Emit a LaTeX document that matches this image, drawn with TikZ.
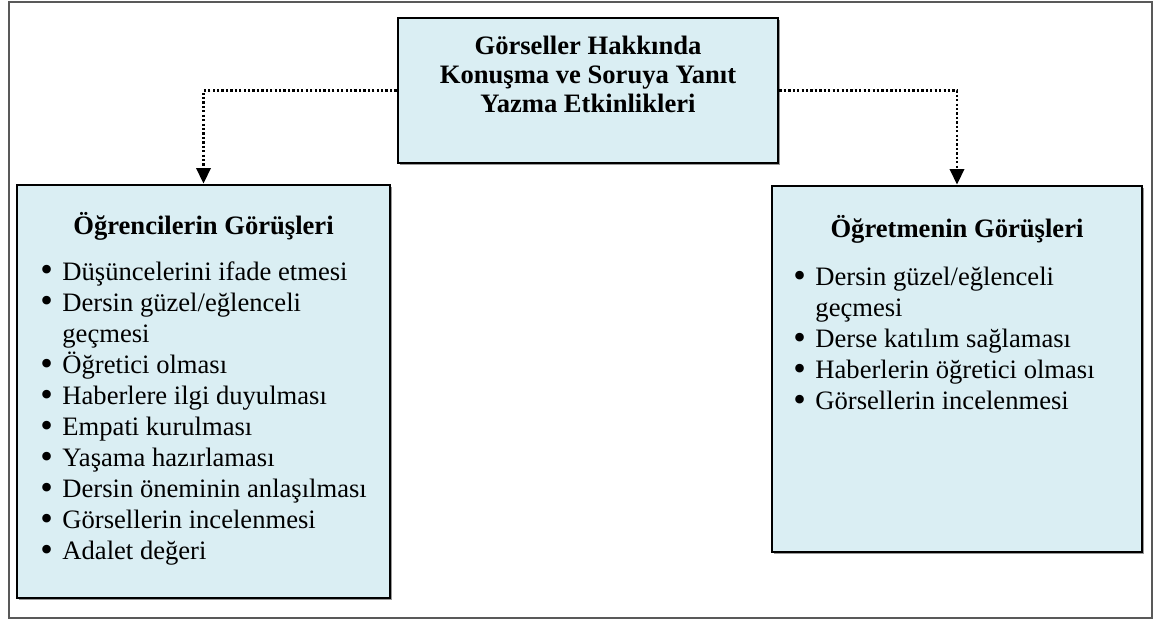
\documentclass[tikz,border=0pt]{standalone}
\usepackage{graphicx}
\usepackage{fontspec}
\setmainfont{Liberation Serif}
\usetikzlibrary{arrows.meta,shadows}

\definecolor{paleblue}{HTML}{DAEEF3}
\newdimen\pxu \pxu=0.4511pt
\newcommand{\bul}{\makebox[22\pxu][l]{\raisebox{-0.1ex}{\scalebox{1.35}{\textbullet}}}}
\newcommand{\cont}{\hspace*{22\pxu}}

\begin{document}
\begin{tikzpicture}[
        x=0.4511pt, y=-0.4511pt,
        block/.style={draw, line width=1.3pt, fill=paleblue, inner sep=0pt,
            drop shadow={shadow xshift=0.7pt, shadow yshift=-0.7pt, fill=black!40, opacity=1}},
        head/.style={font=\fontsize{12}{13.1}\selectfont\bfseries, align=center, inner sep=0pt, anchor=base},
        items/.style={font=\fontsize{12}{14}\selectfont, align=left, inner sep=0pt, anchor=base west},
        link/.style={line width=1pt, dash pattern=on 1pt off 1pt, -{Triangle[width=6.5pt,length=7pt]}}
    ]

    \useasboundingbox (0,0) rectangle (1155,621);
    \draw[black!65, line width=0.6pt] (9,2) rectangle (1152,618);

    \node[block, minimum width=171.42pt, minimum height=65.41pt] (topic) at (588,90.5) {};
    \node[block, minimum width=168.26pt, minimum height=186.30pt] (students) at (203.5,391.5) {};
    \node[block, minimum width=166.91pt, minimum height=165.10pt] (teacher) at (957,369) {};

    % base of a multi-line node is its last line
    \node[head] (topictext) at (588,113) {Görseller Hakkında\\Konuşma ve Soruya Yanıt\\Yazma Etkinlikleri};

    \node[head] (studhead) at (203.5,235) {Öğrencilerin Görüşleri};
    \node[items] (studlist) at (40,560) {\bul Düşüncelerini ifade etmesi\\
        \bul Dersin güzel/eğlenceli\\ \cont geçmesi\\
        \bul Öğretici olması\\
        \bul Haberlere ilgi duyulması\\
        \bul Empati kurulması\\
        \bul Yaşama hazırlaması\\
        \bul Dersin öneminin anlaşılması\\
        \bul Görsellerin incelenmesi\\
        \bul Adalet değeri};

    \node[head] (teachhead) at (957,238) {Öğretmenin Görüşleri};
    \node[items] (teachlist) at (793,410) {\bul Dersin güzel/eğlenceli\\ \cont geçmesi\\
        \bul Derse katılım sağlaması\\
        \bul Haberlerin öğretici olması\\
        \bul Görsellerin incelenmesi};

    \draw[link] (topic.west) -| (students.north);
    \draw[link] (topic.east) -| (teacher.north);

\end{tikzpicture}
\end{document}
